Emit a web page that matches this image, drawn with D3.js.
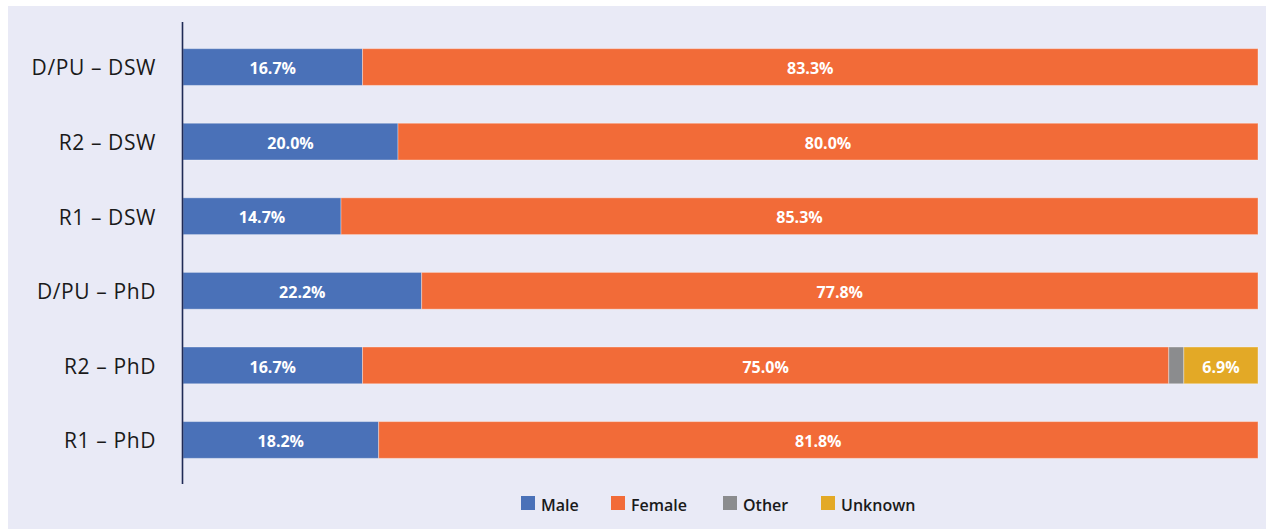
<!DOCTYPE html>
<html>
<head>
<meta charset="utf-8">
<script src="https://cdn.jsdelivr.net/npm/d3@7"></script>
<style>
body { margin: 0; background: #ffffff; }
text { font-family: "Open Sans", "Noto Sans", sans-serif; }
</style>
</head>
<body>
<div id="chart"></div>
<script>
// ----------------------------------------------------------
// DATA -----------------------------------------------------
// ----------------------------------------------------------
var categories = ["D/PU – DSW", "R2 – DSW", "R1 – DSW", "D/PU – PhD", "R2 – PhD", "R1 – PhD"];
var series = ["Male", "Female", "Other", "Unknown"];
var male = [16.7, 20.0, 14.7, 22.2, 16.7, 18.2];
var female = [83.3, 80.0, 85.3, 77.8, 75.0, 81.8];
var other = [0, 0, 0, 0, 1.4, 0];
var unknown = [0, 0, 0, 0, 6.9, 0];

var colors = ["#4a71b8", "#f26b38", "#8b8c8e", "#e3a926"];

// ----------------------------------------------------------
// STRUCTURE ------------------------------------------------
// ----------------------------------------------------------
var W = 1266, H = 529;
var svg = d3.select("#chart").append("svg")
.attr("width", W)
.attr("height", H);

// panel background
svg.append("rect")
.attr("x", 8).attr("y", 6)
.attr("width", W - 8).attr("height", H - 6)
.style("fill", "#e9eaf6");

var rows = categories.map(function(c, i) {
return { cat: c, Male: male[i], Female: female[i], Other: other[i], Unknown: unknown[i] };
});
var stacked = d3.stack().keys(series)(rows);

var xScale = d3.scaleLinear().domain([0, 100]).range([183, 1258]);
var yScale = d3.scaleBand().domain(categories).range([30, 477]).paddingInner(0.507).paddingOuter(0.25);

// ----------------------------------------------------------
// GFX ------------------------------------------------------
// ----------------------------------------------------------
var layers = svg.append("g").selectAll("g")
.data(stacked)
.enter().append("g")
.style("fill", function(d, i) { return colors[i]; });

layers.selectAll("rect")
.data(function(d) { return d; })
.enter().append("rect")
.filter(function(d) { return d[1] - d[0] > 0; })
.attr("x", function(d) { return xScale(d[0]); })
.attr("y", function(d) { return yScale(d.data.cat); })
.attr("width", function(d) { return xScale(d[1]) - xScale(d[0]); })
.attr("height", yScale.bandwidth())
.style("stroke", "rgba(255,255,255,0.35)")
.style("stroke-width", 1);

// value labels (skip tiny "Other" segment)
stacked.forEach(function(s, si) {
svg.append("g").selectAll("text")
.data(s.filter(function(d) { return d[1] - d[0] > 3; }))
.enter().append("text")
.attr("x", function(d) { return (xScale(d[0]) + xScale(d[1])) / 2; })
.attr("y", function(d) { return yScale(d.data.cat) + yScale.bandwidth() / 2 + 1.5; })
.attr("dy", "0.36em")
.attr("text-anchor", "middle")
.style("font-size", "16px")
.style("font-weight", "700")
.style("fill", "#ffffff")
.text(function(d) { return (d[1] - d[0]).toFixed(1) + "%"; });
});

// y axis
var yAxis = svg.append("g")
.attr("transform", "translate(182,0)")
.call(d3.axisLeft(yScale).tickSize(0).tickPadding(26));
yAxis.select(".domain").remove();
yAxis.selectAll(".tick text")
.style("font-size", "21px")
.style("letter-spacing", "0.6px")
.style("fill", "#1a1a1a")
.attr("dy", "0.4em")
.attr("font-family", null);
svg.append("line")
.attr("x1", 182.5).attr("x2", 182.5)
.attr("y1", 22).attr("y2", 484)
.style("stroke", "#1f2a55")
.style("stroke-width", 1.6);

// ----------------------------------------------------------
// LEGEND ---------------------------------------------------
// ----------------------------------------------------------
var legendX = [521, 611, 723, 821];
var legend = svg.append("g").selectAll("g")
.data(series)
.enter().append("g")
.attr("transform", function(d, i) { return "translate(" + legendX[i] + ",496)"; });
legend.append("rect")
.attr("width", 14).attr("height", 14)
.style("fill", function(d, i) { return colors[i]; });
legend.append("text")
.attr("x", 20).attr("y", 9)
.attr("dy", "0.36em")
.style("font-size", "16px")
.style("font-weight", "600")
.style("fill", "#1a1a1a")
.text(function(d) { return d; });
</script>
</body>
</html>
